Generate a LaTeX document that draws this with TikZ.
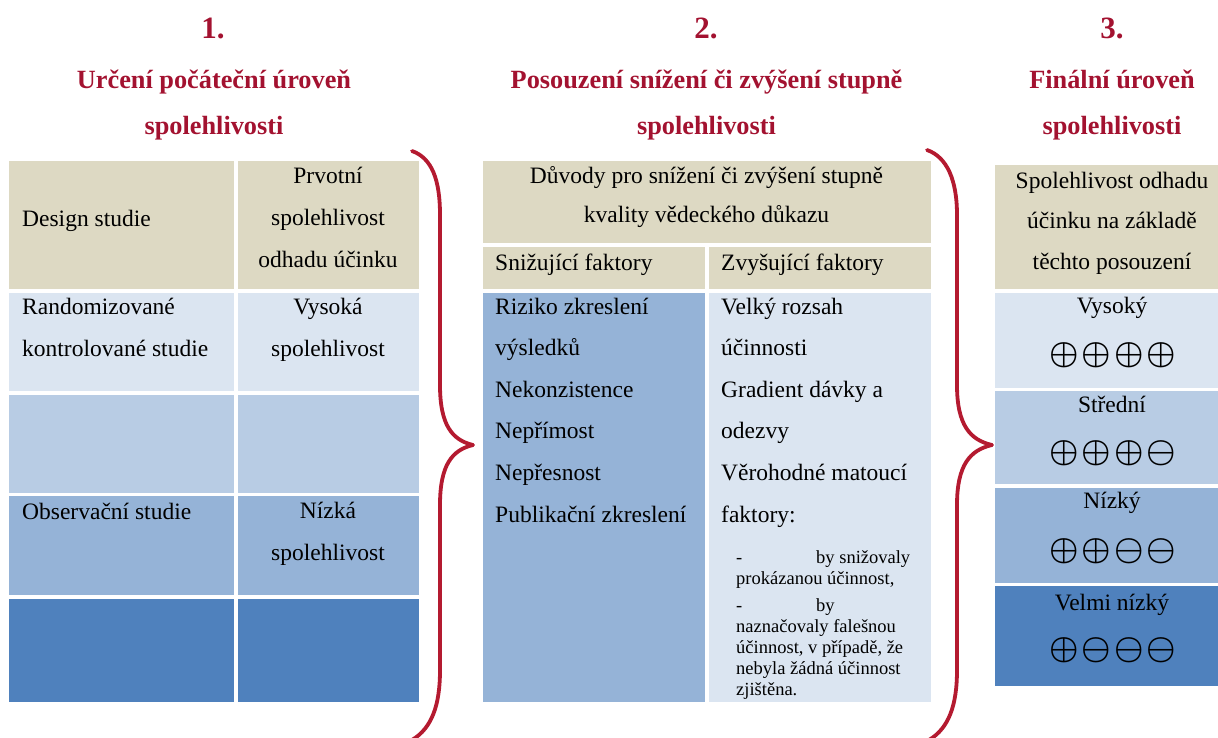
\RequirePackage{fix-cm}
\documentclass[tikz,border=0pt]{standalone}
\usepackage{fontspec}
\setmainfont{Liberation Serif}
\definecolor{titlered}{RGB}{163,18,48}
\definecolor{bracered}{RGB}{180,26,48}
\definecolor{beige}{RGB}{221,217,195}
\definecolor{blueA}{RGB}{219,229,241}
\definecolor{blueB}{RGB}{184,204,228}
\definecolor{blueC}{RGB}{149,179,215}
\definecolor{blueD}{RGB}{79,129,189}
\newcommand\Pl{\ensuremath{\oplus}}
\newcommand\Mi{\ensuremath{\ominus}}
\newcommand\Gp{\kern3pt}
\begin{document}
\begin{tikzpicture}[x=1pt,y=-1pt,
  cell/.style={inner sep=0pt, outer sep=0pt, anchor=north west, draw=none},
  txt/.style={inner sep=0pt, font=\fontsize{23.5}{41.6}\selectfont, text=black},
  small/.style={inner sep=0pt, font=\fontsize{18.5}{21}\selectfont, align=left},
  ttl/.style={inner sep=0pt, text=titlered, font=\bfseries\fontsize{26.3}{46}\selectfont, align=center},
  num/.style={inner sep=0pt, text=titlered, font=\bfseries\fontsize{31}{36}\selectfont, anchor=base},
  sym/.style={inner sep=0pt, font=\fontsize{33}{40}\selectfont\boldmath},
  brace/.style={draw=bracered, line width=3.8pt, line cap=round, line join=round}]
\useasboundingbox (0,0) rectangle (1218,738);

% ---------- titles ----------
\node[num] (n1) at (213,39) {1.};
\node[num] (n2) at (706,39) {2.};
\node[num] (n3) at (1112,39) {3.};
\node[ttl] (h1) at (214,105) {Určení počáteční úroveň\\spolehlivosti};
\node[ttl] (h2) at (706.5,105) {Posouzení snížení či zvýšení stupně\\spolehlivosti};
\node[ttl] (h3) at (1112,105) {Finální úroveň\\spolehlivosti};

% ---------- table 1 ----------
\node[cell, fill=beige, minimum width=225pt, minimum height=128pt] (a11) at (9,161) {};
\node[cell, fill=beige, minimum width=181pt, minimum height=128pt] (a12) at (238,161) {};
\node[cell, fill=blueA, minimum width=225pt, minimum height=98pt] (a21) at (9,293) {};
\node[cell, fill=blueA, minimum width=181pt, minimum height=98pt] (a22) at (238,293) {};
\node[cell, fill=blueB, minimum width=225pt, minimum height=98pt] (a31) at (9,395) {};
\node[cell, fill=blueB, minimum width=181pt, minimum height=98pt] (a32) at (238,395) {};
\node[cell, fill=blueC, minimum width=225pt, minimum height=99pt] (a41) at (9,496) {};
\node[cell, fill=blueC, minimum width=181pt, minimum height=99pt] (a42) at (238,496) {};
\node[cell, fill=blueD, minimum width=225pt, minimum height=103pt] (a51) at (9,599) {};
\node[cell, fill=blueD, minimum width=181pt, minimum height=103pt] (a52) at (238,599) {};

\node[txt, anchor=base west] (tdesign) at (22,227) {Design studie};
\node[txt, align=center] (tprv) at (328,217.5) {Prvotní\\spolehlivost\\odhadu účinku};
\node[txt, align=left, anchor=west] (trct) at (22,327.5) {Randomizované\\kontrolované studie};
\node[txt, align=center] (tvys) at (328,330) {Vysoká\\spolehlivost};
\node[txt, anchor=base west] (tobs) at (22,519) {Observační studie};
\node[txt, align=center] (tniz) at (328,534) {Nízká\\spolehlivost};

% ---------- table 2 ----------
\node[cell, fill=beige, minimum width=448pt, minimum height=82pt] (b0) at (483,161) {};
\node[cell, fill=beige, minimum width=222pt, minimum height=42pt] (b11) at (483,247) {};
\node[cell, fill=beige, minimum width=222pt, minimum height=42pt] (b12) at (709,247) {};
\node[cell, fill=blueC, minimum width=222pt, minimum height=409pt] (b21) at (483,293) {};
\node[cell, fill=blueA, minimum width=222pt, minimum height=409pt] (b22) at (709,293) {};

\node[txt, align=center, font=\fontsize{23.5}{39.5}\selectfont] (thead2) at (706.5,197) {Důvody pro snížení či zvýšení stupně\\kvality vědeckého důkazu};
\node[txt, anchor=base west] (tsniz) at (495,270) {Snižující faktory};
\node[txt, anchor=base west] (tzvys) at (721,270) {Zvyšující faktory};
\node[txt, align=left, anchor=west] (tsl) at (495,410) {Riziko zkreslení\\výsledků\\Nekonzistence\\Nepřímost\\Nepřesnost\\Publikační zkreslení};
\node[txt, align=left, anchor=west] (tzl) at (721,412.5) {Velký rozsah\\účinnosti\\Gradient dávky a\\odezvy\\Věrohodné matoucí\\faktory:};
\node[small, anchor=west] (tp1) at (736,569.7) {\makebox[80pt][l]{-}by snižovaly\\prokázanou účinnost,};
\node[small, anchor=west] (tp2) at (736,648.7) {\makebox[80pt][l]{-}by\\naznačovaly falešnou\\účinnost, v případě, že\\nebyla žádná účinnost\\zjištěna.};

% ---------- table 3 ----------
\node[cell, fill=beige, minimum width=223pt, minimum height=124pt] (c0) at (995,165) {};
\node[cell, fill=blueA, minimum width=223pt, minimum height=95pt] (c1) at (995,293) {};
\node[cell, fill=blueB, minimum width=223pt, minimum height=93pt] (c2) at (995,391) {};
\node[cell, fill=blueC, minimum width=223pt, minimum height=95pt] (c3) at (995,488) {};
\node[cell, fill=blueD, minimum width=223pt, minimum height=100pt] (c4) at (995,586) {};

\node[txt, align=center, font=\fontsize{23.5}{40.5}\selectfont] (thead3) at (1112,223) {Spolehlivost odhadu\\účinku na základě\\těchto posouzení};
\node[txt, anchor=base] (tl1) at (1112,313) {Vysoký};
\node[sym] (ts1) at (1113,355) {\Pl\Gp\Pl\Gp\Pl\Gp\Pl};
\node[txt, anchor=base] (tl2) at (1112,412) {Střední};
\node[sym] (ts2) at (1113,453) {\Pl\Gp\Pl\Gp\Pl\Gp\Mi};
\node[txt, anchor=base] (tl3) at (1112,508) {Nízký};
\node[sym] (ts3) at (1113,551) {\Pl\Gp\Pl\Gp\Mi\Gp\Mi};
\node[txt, anchor=base] (tl4) at (1112,610) {Velmi nízký};
\node[sym] (ts4) at (1113,650) {\Pl\Gp\Mi\Gp\Mi\Gp\Mi};

% ---------- braces ----------
\draw[brace] (412,151) .. controls (432,158) and (440,180) .. (440,215)
  -- (440,385) .. controls (440,425) and (452,440) .. (473,445)
  .. controls (452,450) and (440,465) .. (440,505)
  -- (440,670) .. controls (440,705) and (432,728) .. (412,740);
\draw[brace] (927,150) .. controls (947,157) and (957,180) .. (957,215)
  -- (957,385) .. controls (957,425) and (970,440) .. (992,445)
  .. controls (970,450) and (957,465) .. (957,505)
  -- (957,670) .. controls (957,705) and (949,728) .. (929,740);
\end{tikzpicture}
\end{document}
